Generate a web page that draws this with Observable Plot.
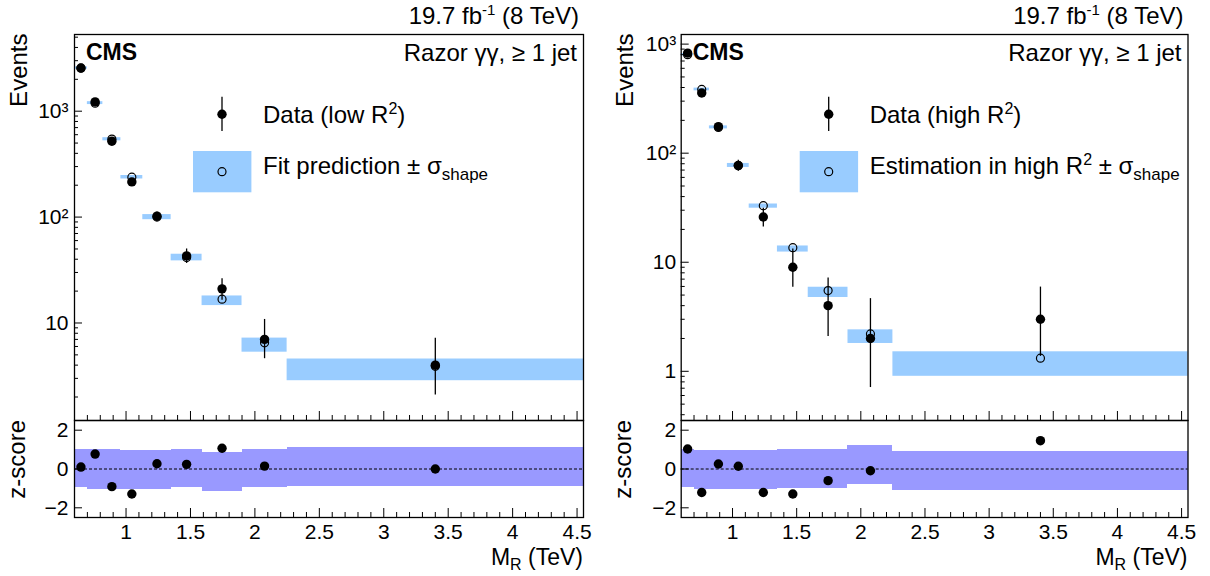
<!DOCTYPE html>
<html><head><meta charset="utf-8">
<script src="https://cdn.jsdelivr.net/npm/d3@7"></script>
<script src="https://cdn.jsdelivr.net/npm/@observablehq/plot@0.6"></script>
<style>
html,body{margin:0;padding:0;background:#fff;}
#wrap{position:relative;width:1210px;height:576px;overflow:hidden;font-family:"Liberation Sans",Arial,Helvetica,sans-serif;}
#wrap svg{position:absolute;overflow:visible;}
</style></head><body><div id="wrap"></div>
<script>
// ---------------- data ----------------
const binEdges = [0.6, 0.7, 0.82, 0.96, 1.13, 1.35, 1.59, 1.9, 2.25, 4.55];

// left panel: low R^2
const lowData    = [2560, 1224, 521, 215, 102, 43, 21, 7, 4];
const lowDataLo  = [2510, 1189, 498, 200, 92, 36.5, 16.4, 4.6, 2.09];
const lowDataHi  = [2611, 1259, 544, 230, 112, 50, 26.2, 10.8, 7.16];
const lowPred    = [2550, 1190, 545, 238, 100, 41.5, 16.8, 6.5, 3.9];
const lowPredLo  = [2490, 1155, 525, 229, 94.5, 38.6, 14.6, 5.3, 2.85];
const lowPredHi  = [2620, 1230, 562, 247, 105.6, 44.6, 18.0, 7.2, 4.57];
const lowPull    = [0.10, 0.77, -0.91, -1.29, 0.27, 0.24, 1.07, 0.15, 0.0];
const lowBandLo  = [-0.93, -1.05, -1.05, -1.05, -1.05, -0.93, -1.16, -0.95, -0.90];
const lowBandHi  = [1.03, 0.98, 0.98, 0.95, 0.95, 1.03, 0.83, 1.03, 1.09];

// right panel: high R^2
const highData   = [827, 356, 175, 77, 26, 9, 4, 2, 3];
const highDataLo = [798, 337, 162, 68.3, 21, 5.9, 2.09, 0.71, 1.37];
const highDataHi = [856, 375, 188, 86.3, 31.2, 13.2, 7.16, 4.64, 5.92];
const highPred   = [800, 384, 172, 77, 33, 13.6, 5.5, 2.2, 1.32];
const highPredLo = [780, 373, 167, 74, 31.3, 12.4, 4.75, 1.8, 0.90];
const highPredHi = [820, 395, 178, 80.5, 34.2, 14.1, 5.9, 2.4, 1.51];
const highPull   = [1.03, -1.21, 0.26, 0.14, -1.21, -1.29, -0.60, -0.09, 1.46];
const highBandLo = [-0.95, -1.07, -1.07, -1.07, -1.07, -1.0, -1.0, -0.8, -1.12];
const highBandHi = [1.03, 0.95, 0.95, 0.95, 0.95, 1.0, 1.0, 1.2, 0.88];

// ticks and labels
const xDomain = [0.6, 4.55];
const xMajorTicks  = [1, 1.5, 2, 2.5, 3, 3.5, 4, 4.5];
const xMajorLabels = ["1", "1.5", "2", "2.5", "3", "3.5", "4", "4.5"];
const xMinorTicks  = [0.7,0.8,0.9,1.1,1.2,1.3,1.4,1.6,1.7,1.8,1.9,2.1,2.2,2.3,2.4,2.6,2.7,2.8,2.9,3.1,3.2,3.3,3.4,3.6,3.7,3.8,3.9,4.1,4.2,4.3,4.4];
const lowYDomain  = [1.2, 5300];
const lowYMajor   = [10, 100, 1000];
const lowYLabels  = ["10", "10²", "10³"];
const lowYMinor   = [2,3,4,5,6,7,8,9,20,30,40,50,60,70,80,90,200,300,400,500,600,700,800,900,2000,3000,4000,5000];
const highYDomain = [0.354, 1225];
const highYMajor  = [1, 10, 100, 1000];
const highYLabels = ["1", "10", "10²", "10³"];
const highYMinor  = [0.4,0.5,0.6,0.7,0.8,0.9,2,3,4,5,6,7,8,9,20,30,40,50,60,70,80,90,200,300,400,500,600,700,800,900];
const pullDomain  = [-2.5, 2.5];
const pullTicks   = [-2, 0, 2];
const pullLabels  = ["\u22122", "0", "2"];

// texts
const lumiText   = ["19.7 fb", "-1", " (8 TeV)"];
const cmsText    = "CMS";
const selText    = "Razor \u03b3\u03b3, \u2265 1 jet";
const lowLegend  = [["Data (low R", "2", ")"], ["Fit prediction \u00b1 \u03c3", "shape"]];
const highLegend = [["Data (high R", "2", ")"], ["Estimation in high R", "2", " \u00b1 \u03c3", "shape"]];
const xTitle = ["M", "R", " (TeV)"];
const yTitle = "Events";
const pullTitle = "z-score";

// colours
const predColor = "#99ccff";
const bandColor = "#9999ff";
const FONT = "'Liberation Sans', Arial, Helvetica, sans-serif";

// ---------------- drawing ----------------
const W = 600, MAIN_H = 421, MAIN_T = 34, MAIN_B = 1, PULL_H = 157, PULL_T = 1, PULL_B = 59;
const wrap = document.getElementById("wrap");
function place(el, left, top) { el.style.left = left + "px"; el.style.top = top + "px"; wrap.appendChild(el); }
function rowsOf(d, dlo, dhi, p, plo, phi, pull, blo, bhi) {
  return d.map((v, i) => ({x1: binEdges[i], x2: binEdges[i + 1], xc: (binEdges[i] + binEdges[i + 1]) / 2,
    d: v, dlo: dlo[i], dhi: dhi[i], p: p[i], plo: plo[i], phi: phi[i], pull: pull[i], blo: blo[i], bhi: bhi[i]}));
}
function lab(ticks, labels) { const m = new Map(ticks.map((t, i) => [t, labels[i]])); return d => m.get(d); }
// inward ticks: bottom (x) and left (y), sized in pixels through insets
function inwardTicks(plotW, plotH, yMaj, yMin, yMajLen) {
  return [
    Plot.tickX(xMajorTicks, {x: d => d, insetTop: plotH - 9, stroke: "black", strokeWidth: 1}),
    Plot.tickX(xMinorTicks, {x: d => d, insetTop: plotH - 5, stroke: "black", strokeWidth: 1}),
    Plot.tickY(yMaj, {y: d => d, insetRight: plotW - yMajLen, stroke: "black", strokeWidth: 1}),
    yMin ? Plot.tickY(yMin, {y: d => d, insetRight: plotW - 4, stroke: "black", strokeWidth: 1}) : null
  ];
}

function mainPlot(rows, ml, mr, yDom, yMaj, yLab, yMin, pad) {
  const plotW = W - ml - mr, plotH = MAIN_H - MAIN_T - MAIN_B;
  return Plot.plot({
    width: W, height: MAIN_H, marginLeft: ml, marginRight: mr, marginTop: MAIN_T, marginBottom: MAIN_B,
    x: {domain: xDomain, label: null},
    y: {type: "log", domain: yDom, label: null},
    style: {fontFamily: FONT, fontSize: "21px", color: "black", background: "transparent", overflow: "visible"},
    marks: [
      Plot.rect(rows, {x1: "x1", x2: "x2", y1: "plo", y2: "phi", fill: predColor}),
      Plot.ruleX(rows, {x: "xc", y1: "dlo", y2: "dhi", stroke: "black", strokeWidth: 1.3}),
      Plot.dot(rows, {x: "xc", y: "p", r: 4, stroke: "black", fill: "none", strokeWidth: 1.2}),
      Plot.dot(rows, {x: "xc", y: "d", r: 4.7, fill: "black", stroke: "none"}),
      Plot.axisY({ticks: yMaj, tickSize: 0, tickPadding: pad, tickFormat: lab(yMaj, yLab), label: null}),
      Plot.axisX({ticks: [], tickSize: 0, label: null}),
      ...inwardTicks(plotW, plotH, yMaj, yMin, 8),
      Plot.frame({stroke: "black", strokeWidth: 1.3})
    ]
  });
}
function pullPlot(rows, ml, mr, pad) {
  const plotW = W - ml - mr, plotH = PULL_H - PULL_T - PULL_B;
  return Plot.plot({
    width: W, height: PULL_H, marginLeft: ml, marginRight: mr, marginTop: PULL_T, marginBottom: PULL_B,
    x: {domain: xDomain, label: null},
    y: {domain: pullDomain, label: null},
    style: {fontFamily: FONT, fontSize: "21px", color: "black", background: "transparent", overflow: "visible"},
    marks: [
      Plot.rect(rows, {x1: "x1", x2: "x2", y1: "blo", y2: "bhi", fill: bandColor, shapeRendering: "crispEdges"}),
      Plot.ruleY([0], {stroke: "black", strokeDasharray: "3,2", strokeWidth: 1}),
      Plot.dot(rows, {x: "xc", y: "pull", r: 4.7, fill: "black", stroke: "none"}),
      Plot.axisY({ticks: pullTicks, tickSize: 0, tickPadding: pad, tickFormat: lab(pullTicks, pullLabels), label: null}),
      Plot.axisX({ticks: xMajorTicks, tickSize: 0, tickPadding: 7, tickFormat: lab(xMajorTicks, xMajorLabels), label: null}),
      ...inwardTicks(plotW, plotH, pullTicks, null, 8),
      Plot.frame({stroke: "black", strokeWidth: 1.3})
    ]
  });
}

const lowRows = rowsOf(lowData, lowDataLo, lowDataHi, lowPred, lowPredLo, lowPredHi, lowPull, lowBandLo, lowBandHi);
const highRows = rowsOf(highData, highDataLo, highDataHi, highPred, highPredLo, highPredHi, highPull, highBandLo, highBandHi);

const panels = [
  {left: 0, ml: 74, mr: 17, rows: lowRows, yDom: lowYDomain, yMaj: lowYMajor, yLab: lowYLabels, yMin: lowYMinor, pad: 6, legend: lowLegend},
  {left: 606, ml: 74.7, mr: 18.5, rows: highRows, yDom: highYDomain, yMaj: highYMajor, yLab: highYLabels, yMin: highYMinor, pad: 5, legend: highLegend}
];

let ov = `<svg xmlns="http://www.w3.org/2000/svg" width="1210" height="576" style="left:0;top:0;pointer-events:none" font-family="${FONT.replace(/'/g, "")}" font-size="24" fill="black">`;
for (const p of panels) {
  place(mainPlot(p.rows, p.ml, p.mr, p.yDom, p.yMaj, p.yLab, p.yMin, p.pad), p.left, 0);
  place(pullPlot(p.rows, p.ml, p.mr, p.pad), p.left, 419);
  const L = p.left + p.ml, R = p.left + W - p.mr;
  ov += `<text x="${R - 4}" y="24" text-anchor="end">${lumiText[0]}<tspan dy="-9" font-size="15">${lumiText[1]}</tspan><tspan dy="9">${lumiText[2]}</tspan></text>`;
  ov += `<text x="${L + 12}" y="60" font-weight="bold" font-size="23">${cmsText}</text>`;
  ov += `<text x="${R - 6}" y="61" text-anchor="end">${selText}</text>`;
  const mx = L + 148, tx = L + 189;
  ov += `<line x1="${mx}" x2="${mx}" y1="96.7" y2="131" stroke="black" stroke-width="1.3"/><circle cx="${mx}" cy="114.3" r="4.7"/>`;
  ov += `<rect x="${mx - 29}" y="151" width="58.4" height="41.3" fill="${predColor}"/><circle cx="${mx}" cy="171.7" r="4" fill="none" stroke="black" stroke-width="1.2"/>`;
  const d = p.legend[0];
  ov += `<text x="${tx}" y="123">${d[0]}<tspan dy="-9" font-size="16">${d[1]}</tspan><tspan dy="9">${d[2]}</tspan></text>`;
  const f = p.legend[1];
  if (f.length === 2) {
    ov += `<text x="${tx}" y="174">${f[0]}<tspan dy="6" font-size="17">${f[1]}</tspan></text>`;
  } else {
    ov += `<text x="${tx}" y="174">${f[0]}<tspan dy="-9" font-size="16">${f[1]}</tspan><tspan dy="9">${f[2]}</tspan><tspan dy="6" font-size="17">${f[3]}</tspan></text>`;
  }
  ov += `<text transform="translate(${L - 47.3},33.5) rotate(-90)" text-anchor="end">${yTitle}</text>`;
  ov += `<text transform="translate(${L - 49.5},420) rotate(-90)" text-anchor="end">${pullTitle}</text>`;
  ov += `<text x="${R}" y="565" text-anchor="end" font-size="23">${xTitle[0]}<tspan dy="5" font-size="16">${xTitle[1]}</tspan><tspan dy="-5">${xTitle[2]}</tspan></text>`;
}
ov += `</svg>`;
const holder = document.createElement("div");
holder.innerHTML = ov;
wrap.appendChild(holder.firstChild);
</script>
</body></html>
